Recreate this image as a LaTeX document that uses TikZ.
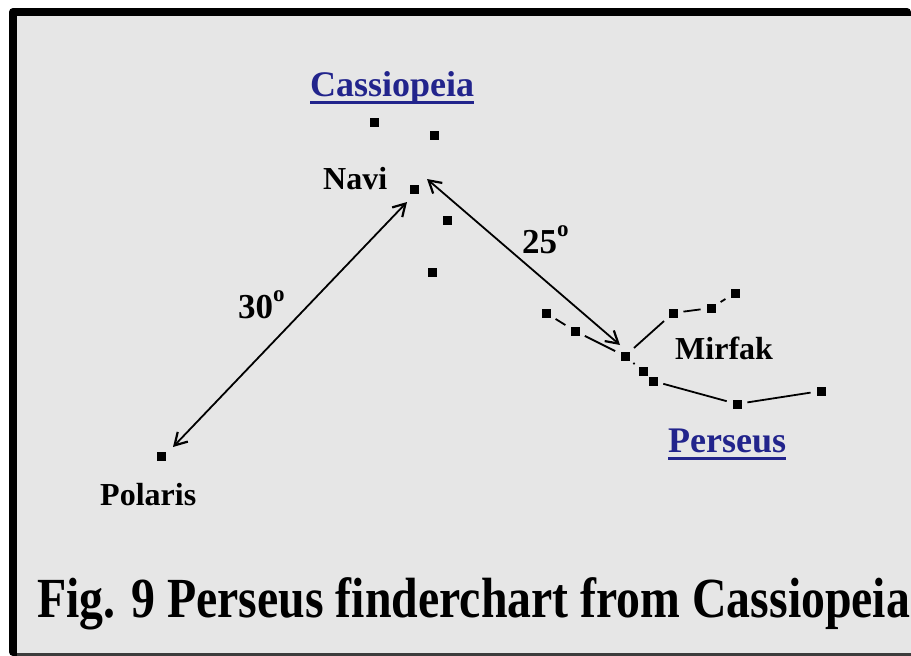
\documentclass[tikz,border=0pt]{standalone}
\usepackage{fontspec}
\setmainfont{Liberation Serif}
\usetikzlibrary{arrows.meta,calc}
\definecolor{bgray}{RGB}{230,230,230}
\definecolor{cblue}{RGB}{34,36,140}
\definecolor{edgegray}{RGB}{60,60,60}
\tikzset{
  star/.style={rectangle,fill=black,minimum size=9pt,inner sep=0pt,outer sep=0pt},
  conline/.style={line width=1.8pt,shorten <=6pt,shorten >=6pt},
  measure/.style={line width=1.8pt,{Straight Barb[length=12pt,width=14pt,line width=2.2pt]}-{Straight Barb[length=12pt,width=14pt,line width=2.2pt]}},
  blab/.style={font=\fontsize{32}{32}\selectfont\bfseries,inner sep=0pt,anchor=base west},
  ulab/.style={font=\fontsize{36}{36}\selectfont\bfseries,text=cblue,inner sep=0pt,anchor=base west},
  uline/.style={cblue,line width=3pt},
}
\newcommand{\degsym}{\raisebox{17pt}{\fontsize{23}{23}\selectfont o}}
\begin{document}
\begin{tikzpicture}[x=1pt,y=-1pt]
\useasboundingbox (0,0) rectangle (911,656);
\fill[white] (0,0) rectangle (911,656);
\fill[black,rounded corners=4pt] (9,8) -- (911,8) -- (911,656) -- (9,656) -- cycle;
\fill[bgray] (17,16) rectangle (911,653);
\fill[edgegray] (17,653) rectangle (911,656);

% Cassiopeia stars
\node[star] (c1) at (374,122) {};
\node[star] (c2) at (434,135) {};
\node[star] (navi) at (414,189) {};
\node[star] (c4) at (447,220) {};
\node[star] (c5) at (432,272) {};
% Polaris
\node[star] (polaris) at (161,456) {};
% Perseus stars
\node[star] (p1) at (546,313) {};
\node[star] (p2) at (575,331) {};
\node[star] (mirfak) at (625,356) {};
\node[star] (p4) at (643,371) {};
\node[star] (p5) at (653,381) {};
\node[star] (p6) at (737,404) {};
\node[star] (p7) at (821,391) {};
\node[star] (p8) at (673,313) {};
\node[star] (p9) at (711,308) {};
\node[star] (p10) at (735,293) {};

\draw[conline] (p1) -- (p2);
\draw[conline] (p2) -- (mirfak);
\draw[conline,shorten <=5pt,shorten >=5pt] (mirfak) -- (p4);
\draw[conline] (p5) -- (p6);
\draw[conline] (p6) -- (p7);
\draw[conline] (mirfak) -- (p8);
\draw[conline] (p8) -- (p9);
\draw[conline] (p9) -- (p10);

% measuring arrows
\coordinate (a1) at (173,447);
\coordinate (a2) at (407,202);
\coordinate (b1) at (427,179);
\coordinate (b2) at (620,345);
\draw[measure] (a1) -- (a2);
\draw[measure] (b1) -- (b2);

% labels
\node[ulab] (cas) at (310,96) {Cassiopeia};
\draw[uline] ([yshift=-6pt]cas.base west) -- ([yshift=-6pt]cas.base east);
\node[ulab] (per) at (668,452) {Perseus};
\draw[uline] ([yshift=-6pt]per.base west) -- ([yshift=-6pt]per.base east);
\node[blab] (navil) at (323,189) {Navi};
\node[blab] (poll) at (100,505) {Polaris};
\node[blab] (mirl) at (675,359) {Mirfak};
\node[blab,font=\fontsize{35}{35}\selectfont\bfseries] (d30) at (238,318) {30\degsym};
\node[blab,font=\fontsize{35}{35}\selectfont\bfseries] (d25) at (522,253) {25\degsym};

\node[inner sep=0pt,anchor=base west] (title) at (37,617)
  {\scalebox{0.885}[1.05]{\fontsize{54}{54}\selectfont\bfseries Fig. 9 Perseus finderchart from Cassiopeia}};
\end{tikzpicture}
\end{document}
